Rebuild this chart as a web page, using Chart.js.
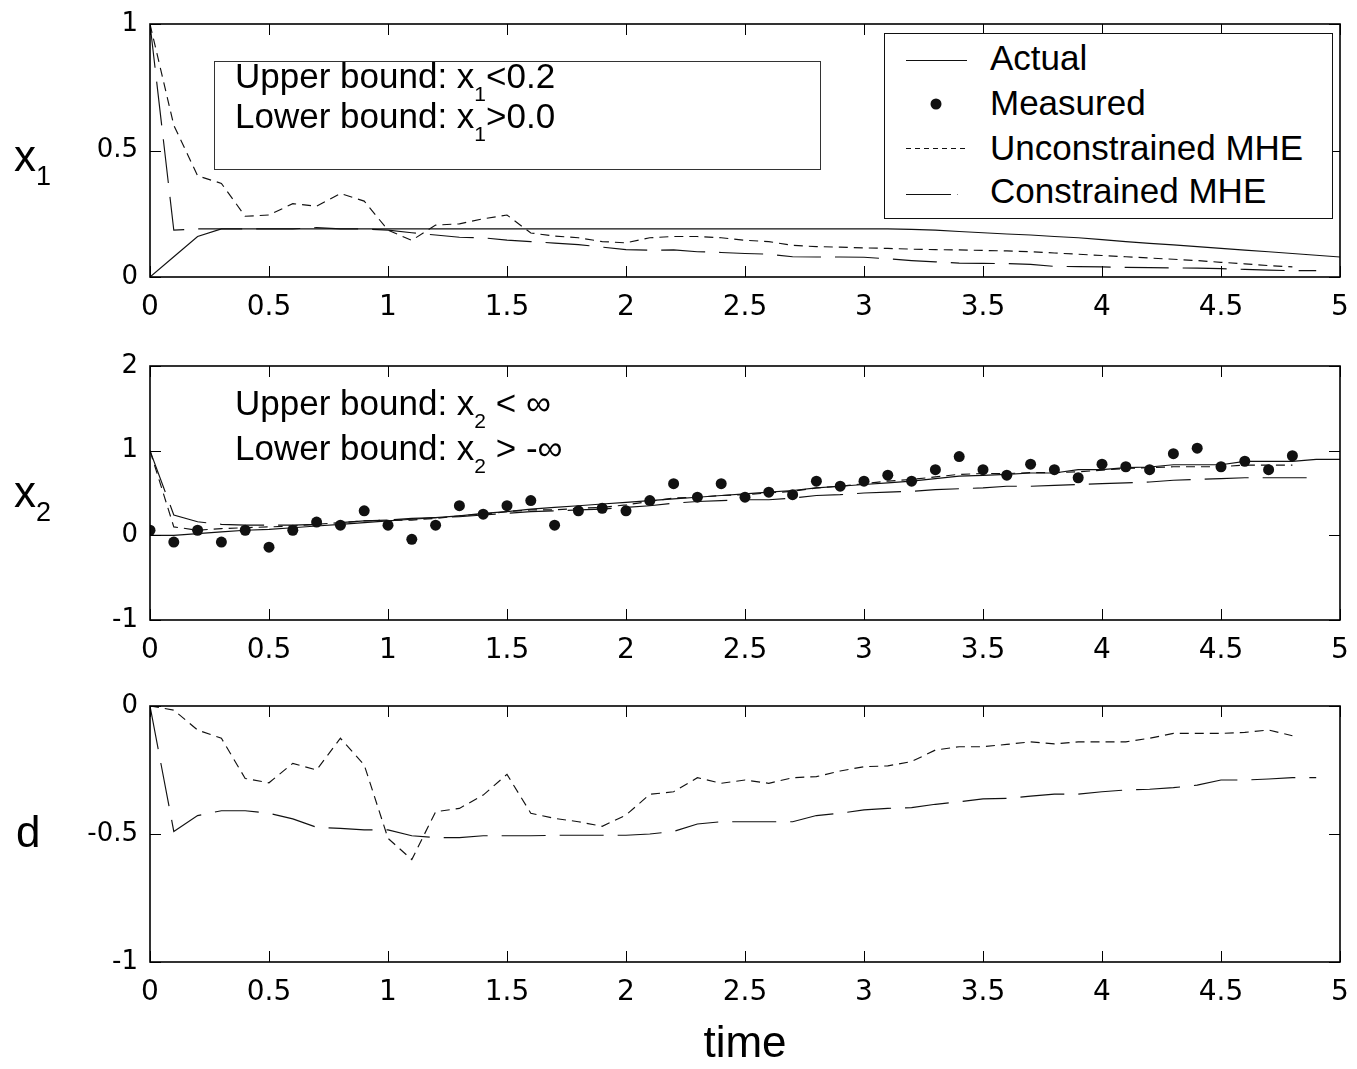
<!DOCTYPE html>
<html>
<head>
<meta charset="utf-8">
<title>MHE state estimates</title>
<script src="https://cdn.jsdelivr.net/npm/chart.js@4.4.1/dist/chart.umd.min.js"></script>
<style>
  html, body { margin: 0; padding: 0; background: #fff; }
  #page { position: relative; width: 1357px; height: 1069px; overflow: hidden;
          font-family: 'Liberation Sans', Arial, sans-serif; color: #000; }
  #page canvas { position: absolute; left: 0; }
  .txt { position: absolute; white-space: nowrap; line-height: 1; font-size: 35px; }
  .txt .sb { font-size: 21px; position: relative; top: 13px; }
  .ylab { position: absolute; white-space: nowrap; line-height: 1; font-size: 44px; }
  .ylab .sb { font-size: 27px; position: relative; top: 14px; }
  .box { position: absolute; box-sizing: border-box; }
</style>
</head>
<body>
<div id="page">
  <canvas id="chartX1" width="1357" height="340" style="top:0px"></canvas>
  <canvas id="chartX2" width="1357" height="340" style="top:340px"></canvas>
  <canvas id="chartD" width="1357" height="389" style="top:680px"></canvas>

  <div class="ylab" style="left:14px;top:134px">x<span class="sb">1</span></div>
  <div class="ylab" style="left:14px;top:470px">x<span class="sb">2</span></div>
  <div class="ylab" style="left:16px;top:810px">d</div>

  <div class="box" style="left:214px;top:61px;width:607px;height:109px;border:1px solid #333;"></div>
  <div class="txt" style="left:235px;top:58px">Upper bound: x<span class="sb">1</span>&lt;0.2</div>
  <div class="txt" style="left:235px;top:98px">Lower bound: x<span class="sb">1</span>&gt;0.0</div>

  <div class="txt" style="left:235px;top:385px">Upper bound: x<span class="sb">2</span> &lt; ∞</div>
  <div class="txt" style="left:235px;top:430px">Lower bound: x<span class="sb">2</span> &gt; -∞</div>

  <div class="box" style="left:884px;top:33px;width:449px;height:186px;border:1px solid #111;background:#fff;">
    <svg width="447" height="184" style="position:absolute;left:0;top:0">
      <line x1="21" y1="26.5" x2="82" y2="26.5" stroke="#111" stroke-width="1.1"/>
      <circle cx="51" cy="70" r="5.5" fill="#111"/>
      <line x1="21" y1="114.5" x2="82" y2="114.5" stroke="#111" stroke-width="1.1" stroke-dasharray="5 4"/>
      <line x1="21" y1="160.5" x2="66" y2="160.5" stroke="#111" stroke-width="1.1"/>
      <line x1="72" y1="160.5" x2="73" y2="160.5" stroke="#888" stroke-width="1.1"/>
    </svg>
  </div>
  <div class="txt" style="left:990px;top:40px">Actual</div>
  <div class="txt" style="left:990px;top:85px">Measured</div>
  <div class="txt" style="left:990px;top:130px">Unconstrained MHE</div>
  <div class="txt" style="left:990px;top:173px">Constrained MHE</div>
</div>

<script>
const time = [0, 0.1, 0.2, 0.3, 0.4, 0.5, 0.6, 0.7, 0.8, 0.9,
    1.0, 1.1, 1.2, 1.3, 1.4, 1.5, 1.6, 1.7, 1.8, 1.9,
    2.0, 2.1, 2.2, 2.3, 2.4, 2.5, 2.6, 2.7, 2.8, 2.9,
    3.0, 3.1, 3.2, 3.3, 3.4, 3.5, 3.6, 3.7, 3.8, 3.9,
    4.0, 4.1, 4.2, 4.3, 4.4, 4.5, 4.6, 4.7, 4.8, 4.9, 5.0];

// x1 panel
const x1Actual = [0, 0.08, 0.16, 0.19, 0.19, 0.19, 0.19, 0.19, 0.19, 0.19,
    0.19, 0.19, 0.19, 0.19, 0.19, 0.19, 0.19, 0.19, 0.19, 0.19,
    0.19, 0.19, 0.19, 0.19, 0.19, 0.19, 0.19, 0.19, 0.19, 0.19,
    0.19, 0.19, 0.188, 0.185, 0.18, 0.175, 0.17, 0.166, 0.16, 0.155,
    0.148, 0.14, 0.133, 0.127, 0.12, 0.113, 0.106, 0.1, 0.093, 0.086, 0.079];
const x1Unconstrained = [1.0, 0.6, 0.40, 0.37, 0.24, 0.245, 0.29, 0.28, 0.33, 0.30,
    0.185, 0.145, 0.205, 0.21, 0.23, 0.245, 0.174, 0.162, 0.155, 0.14,
    0.135, 0.155, 0.16, 0.16, 0.155, 0.145, 0.14, 0.125, 0.12, 0.118,
    0.115, 0.113, 0.11, 0.108, 0.107, 0.105, 0.103, 0.1, 0.095, 0.09,
    0.085, 0.08, 0.075, 0.07, 0.065, 0.058, 0.052, 0.045, 0.04];
const x1Constrained = [1.0, 0.185, 0.19, 0.19, 0.19, 0.19, 0.19, 0.195, 0.19, 0.19,
    0.185, 0.175, 0.166, 0.157, 0.155, 0.146, 0.14, 0.134, 0.128, 0.118,
    0.108, 0.106, 0.107, 0.1, 0.097, 0.093, 0.09, 0.08, 0.079, 0.079,
    0.078, 0.072, 0.065, 0.06, 0.055, 0.054, 0.053, 0.05, 0.042, 0.041,
    0.04, 0.038, 0.037, 0.036, 0.035, 0.033, 0.03, 0.027, 0.025, 0.025];

// x2 panel
const x2Actual = [0, 0, 0.02, 0.04, 0.06, 0.07, 0.09, 0.11, 0.13, 0.15,
    0.17, 0.19, 0.21, 0.23, 0.26, 0.28, 0.31, 0.33, 0.35, 0.37,
    0.39, 0.41, 0.43, 0.45, 0.47, 0.49, 0.51, 0.53, 0.56, 0.58,
    0.6, 0.62, 0.64, 0.67, 0.7, 0.709, 0.72, 0.736, 0.736, 0.776,
    0.776, 0.8, 0.807, 0.834, 0.834, 0.834, 0.873, 0.873, 0.873, 0.897, 0.897];
const x2Measured = [0.06, -0.08, 0.06, -0.08, 0.06, -0.14, 0.06, 0.157, 0.12, 0.29,
    0.12, -0.047, 0.12, 0.35, 0.25, 0.35, 0.41, 0.12, 0.29, 0.32,
    0.29, 0.41, 0.61, 0.45, 0.61, 0.45, 0.51, 0.48, 0.64, 0.58,
    0.64, 0.71, 0.64, 0.775, 0.93, 0.775, 0.71, 0.84, 0.775, 0.68,
    0.84, 0.81, 0.775, 0.965, 1.03, 0.81, 0.875, 0.775, 0.94];
const x2Unconstrained = [1.0, 0.1, 0.06, 0.08, 0.09, 0.1, 0.11, 0.13, 0.15, 0.17,
    0.18, 0.18, 0.2, 0.23, 0.25, 0.28, 0.3, 0.3, 0.32, 0.33,
    0.36, 0.4, 0.44, 0.45, 0.47, 0.48, 0.5, 0.52, 0.56, 0.58,
    0.61, 0.64, 0.66, 0.69, 0.72, 0.73, 0.73, 0.74, 0.74, 0.75,
    0.77, 0.79, 0.8, 0.81, 0.81, 0.81, 0.83, 0.83, 0.83];
const x2Constrained = [1.0, 0.24, 0.16, 0.13, 0.12, 0.12, 0.12, 0.13, 0.15, 0.17,
    0.18, 0.2, 0.21, 0.22, 0.24, 0.26, 0.28, 0.29, 0.3, 0.31,
    0.33, 0.35, 0.38, 0.4, 0.41, 0.42, 0.42, 0.44, 0.47, 0.48,
    0.5, 0.51, 0.52, 0.54, 0.55, 0.56, 0.58, 0.58, 0.59, 0.6,
    0.61, 0.62, 0.63, 0.65, 0.66, 0.67, 0.68, 0.68, 0.68, 0.68];

// d panel
const dUnconstrained = [0, -0.016, -0.094, -0.126, -0.283, -0.3, -0.224, -0.25, -0.126, -0.23,
    -0.517, -0.6, -0.413, -0.4, -0.348, -0.267, -0.419, -0.439, -0.452, -0.47,
    -0.426, -0.345, -0.335, -0.28, -0.302, -0.289, -0.302, -0.28, -0.276, -0.254,
    -0.237, -0.234, -0.217, -0.172, -0.159, -0.159, -0.15, -0.14, -0.148, -0.14,
    -0.14, -0.14, -0.126, -0.107, -0.107, -0.107, -0.103, -0.094, -0.116];
const dConstrained = [0, -0.49, -0.428, -0.409, -0.409, -0.419, -0.441, -0.474, -0.478, -0.484,
    -0.484, -0.507, -0.514, -0.514, -0.507, -0.507, -0.507, -0.505, -0.505, -0.505,
    -0.505, -0.5, -0.49, -0.461, -0.452, -0.452, -0.452, -0.452, -0.428, -0.419,
    -0.406, -0.4, -0.397, -0.384, -0.374, -0.363, -0.361, -0.352, -0.344, -0.344,
    -0.335, -0.328, -0.325, -0.319, -0.309, -0.289, -0.289, -0.285, -0.28, -0.28];

const xTicks = [0, 0.5, 1, 1.5, 2, 2.5, 3, 3.5, 4, 4.5, 5];
const xTickLabels = ['0', '0.5', '1', '1.5', '2', '2.5', '3', '3.5', '4', '4.5', '5'];
const x1Ticks = [0, 0.5, 1];
const x1TickLabels = ['0', '0.5', '1'];
const x2Ticks = [-1, 0, 1, 2];
const x2TickLabels = ['-1', '0', '1', '2'];
const dTicks = [-1, -0.5, 0];
const dTickLabels = ['-1', '-0.5', '0'];

const INK = '#111';
const DASH_UNC = [9, 6];
const DASH_CON = [44, 14];

function points(values) {
    return values.map((v, i) => ({ x: time[i], y: v }));
}

function lineSet(label, values, dash) {
    return {
        label: label,
        data: points(values),
        borderColor: INK,
        borderWidth: 1.15,
        borderDash: dash,
        pointRadius: 0,
        tension: 0,
        fill: false
    };
}

function dotSet(label, values) {
    return {
        label: label,
        data: points(values),
        showLine: false,
        pointRadius: 5.5,
        pointBackgroundColor: INK,
        pointBorderColor: INK,
        pointBorderWidth: 0
    };
}

// matlab style box with inward ticks on all four sides
const frameTicks = {
    id: 'frameTicks',
    afterDatasetsDraw(chart) {
        const { ctx, chartArea: a, scales } = chart;
        const len = 11;
        ctx.save();
        ctx.strokeStyle = '#000';
        ctx.lineWidth = 1;
        ctx.beginPath();
        scales.x.ticks.forEach(t => {
            const px = Math.round(scales.x.getPixelForValue(t.value)) + 0.5;
            ctx.moveTo(px, a.bottom); ctx.lineTo(px, a.bottom - len);
            ctx.moveTo(px, a.top); ctx.lineTo(px, a.top + len);
        });
        scales.y.ticks.forEach(t => {
            const py = Math.round(scales.y.getPixelForValue(t.value)) + 0.5;
            ctx.moveTo(a.left, py); ctx.lineTo(a.left + len, py);
            ctx.moveTo(a.right, py); ctx.lineTo(a.right - len, py);
        });
        ctx.stroke();
        ctx.lineWidth = 1.6;
        ctx.strokeRect(a.left, a.top, a.right - a.left, a.bottom - a.top);
        ctx.restore();
    }
};

function noPad(scale) {
    scale.paddingLeft = 0;
    scale.paddingRight = 0;
    scale.paddingTop = 0;
    scale.paddingBottom = 0;
}

function makePanel(id, cfg) {
    const canvas = document.getElementById(id);
    const axisHeight = canvas.height - cfg.bottom;
    new Chart(canvas, {
        type: 'line',
        data: { datasets: cfg.datasets },
        options: {
            responsive: false,
            animation: false,
            events: [],
            layout: { padding: { left: 0, right: 17, top: cfg.top, bottom: 0 } },
            plugins: { legend: { display: false }, tooltip: { enabled: false } },
            scales: {
                x: {
                    type: 'linear',
                    min: 0,
                    max: 5,
                    afterBuildTicks: s => { s.ticks = xTicks.map(v => ({ value: v })); },
                    afterFit: s => { s.height = axisHeight; noPad(s); },
                    grid: { display: false, drawTicks: false },
                    border: { display: false },
                    ticks: {
                        autoSkip: false,
                        maxRotation: 0,
                        padding: 14,
                        color: '#000',
                        font: { family: 'DejaVu Sans', size: 28 },
                        callback: (v, i) => xTickLabels[i]
                    },
                    title: cfg.xTitle || { display: false }
                },
                y: {
                    min: cfg.yTicks[0],
                    max: cfg.yTicks[cfg.yTicks.length - 1],
                    afterBuildTicks: s => { s.ticks = cfg.yTicks.map(v => ({ value: v })); },
                    afterFit: s => { s.width = 150; noPad(s); },
                    grid: { display: false, drawTicks: false },
                    border: { display: false },
                    ticks: {
                        autoSkip: false,
                        padding: 12,
                        color: '#000',
                        font: { family: 'DejaVu Sans', size: 26 },
                        callback: (v, i) => cfg.yLabels[i]
                    }
                }
            }
        },
        plugins: [frameTicks]
    });
}

makePanel('chartX1', {
    top: 24,
    bottom: 277,
    yTicks: x1Ticks,
    yLabels: x1TickLabels,
    datasets: [
        lineSet('Actual', x1Actual, []),
        lineSet('Unconstrained MHE', x1Unconstrained, DASH_UNC),
        lineSet('Constrained MHE', x1Constrained, DASH_CON)
    ]
});

makePanel('chartX2', {
    top: 26,
    bottom: 280,
    yTicks: x2Ticks,
    yLabels: x2TickLabels,
    datasets: [
        dotSet('Measured', x2Measured),
        lineSet('Actual', x2Actual, []),
        lineSet('Unconstrained MHE', x2Unconstrained, DASH_UNC),
        lineSet('Constrained MHE', x2Constrained, DASH_CON)
    ]
});

makePanel('chartD', {
    top: 26,
    bottom: 282,
    yTicks: dTicks,
    yLabels: dTickLabels,
    xTitle: {
        display: true,
        text: 'time',
        color: '#000',
        font: { family: 'Liberation Sans', size: 44, lineHeight: 1 },
        padding: { top: 0, bottom: 2 }
    },
    datasets: [
        lineSet('Unconstrained MHE', dUnconstrained, DASH_UNC),
        lineSet('Constrained MHE', dConstrained, DASH_CON)
    ]
});
</script>
</body>
</html>
